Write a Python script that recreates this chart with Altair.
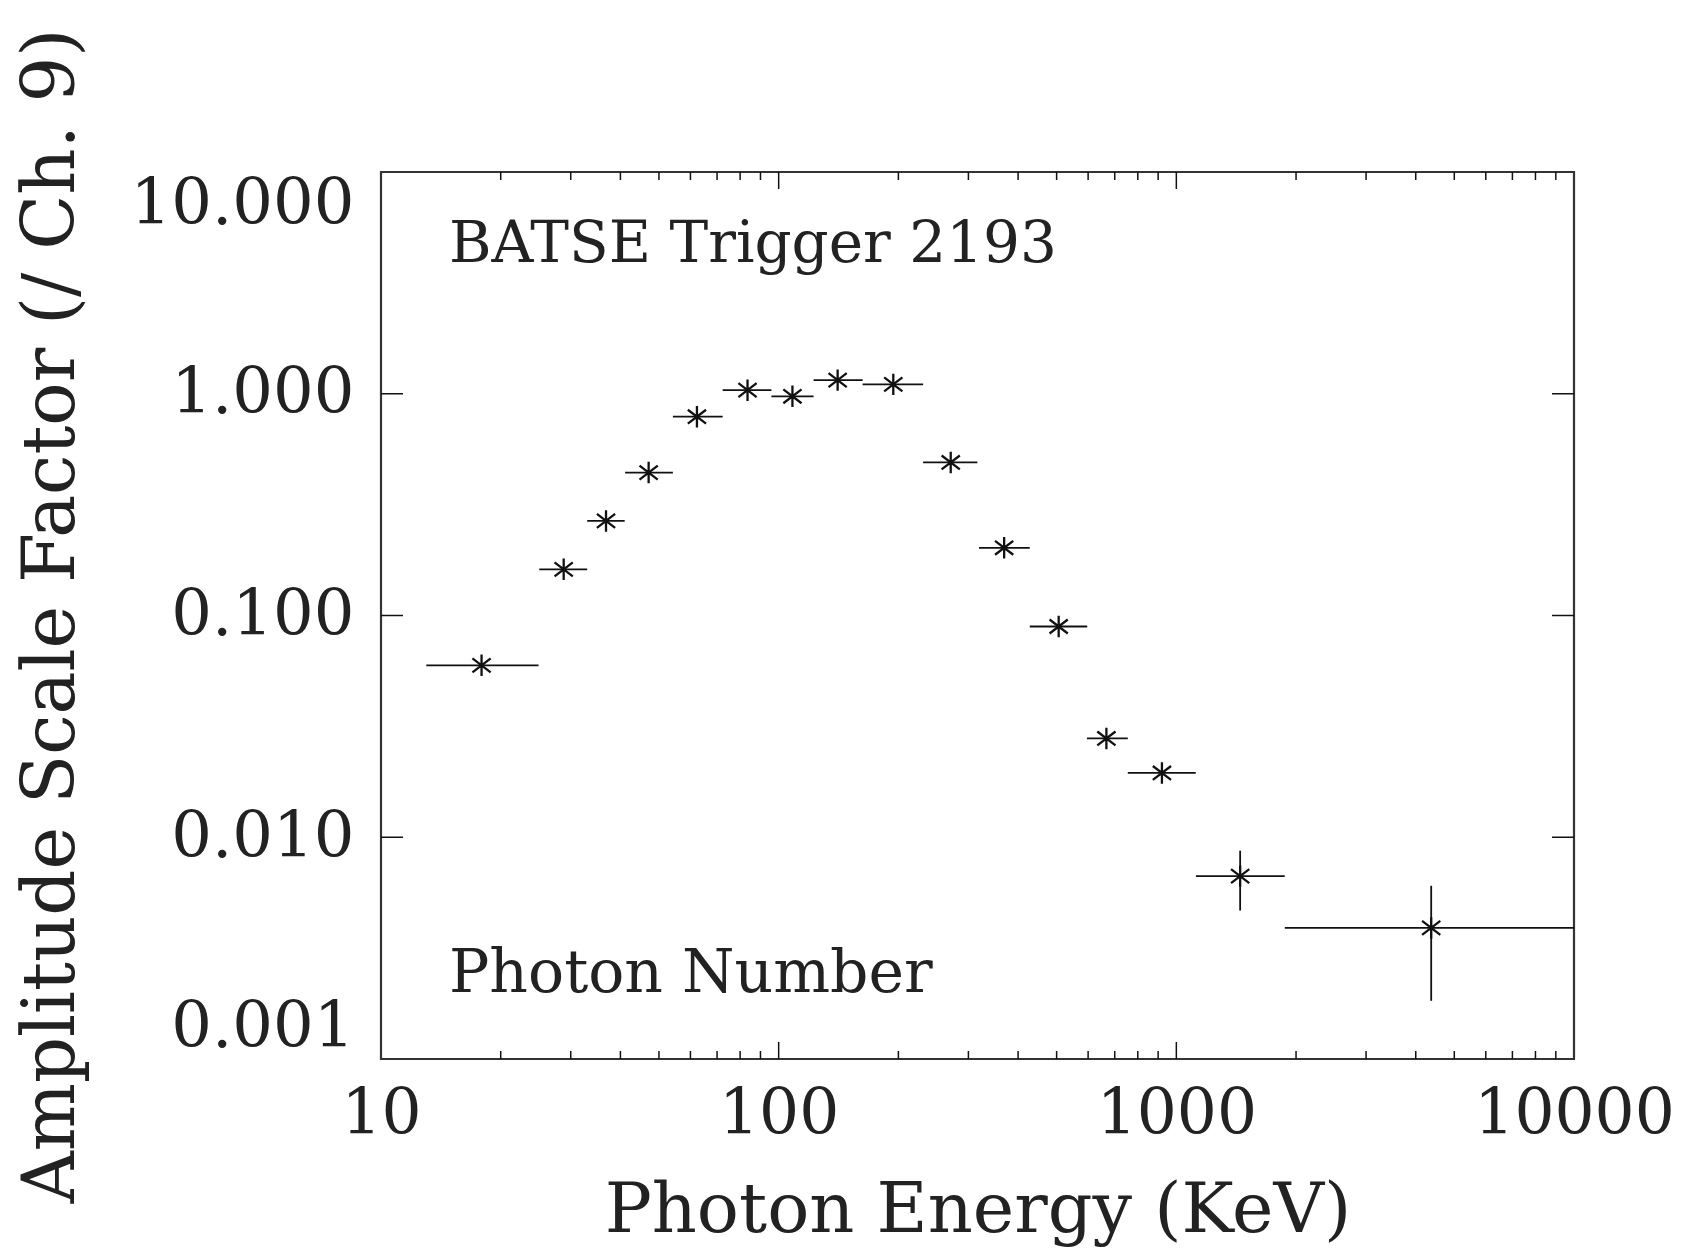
import altair as alt
import pandas as pd

# ---- data ----
energy = [17.9, 28.8, 36.8, 47.1, 62.3, 83.5, 108.3, 140.7, 194.2, 270.8,
          369.0, 506.0, 667.0, 920.0, 1447.0, 4374.0]
e_lo = [13.0, 25.0, 33.0, 41.1, 54.2, 72.3, 95.9, 122.4, 162.6, 230.8,
        319.0, 428.0, 596.0, 755.0, 1120.0, 1874.0]
e_hi = [24.9, 33.0, 41.0, 54.2, 72.3, 95.9, 122.4, 162.6, 230.8, 316.0,
        428.0, 597.0, 755.0, 1119.0, 1873.0, 10000.0]
amp = [0.0596, 0.1615, 0.267, 0.441, 0.788, 1.038, 0.974, 1.152, 1.102, 0.49,
       0.202, 0.0892, 0.0279, 0.0195, 0.00668, 0.0039]
amp_lo = [0.0596, 0.1615, 0.267, 0.441, 0.788, 1.038, 0.974, 1.152, 1.102, 0.49,
          0.202, 0.0892, 0.0279, 0.0195, 0.00467, 0.00183]
amp_hi = [0.0596, 0.1615, 0.267, 0.441, 0.788, 1.038, 0.974, 1.152, 1.102, 0.49,
          0.202, 0.0892, 0.0279, 0.0195, 0.0087, 0.00604]

x_major = [10, 100, 1000, 10000]
x_minor = [20, 30, 40, 50, 60, 70, 80, 90,
           200, 300, 400, 500, 600, 700, 800, 900,
           2000, 3000, 4000, 5000, 6000, 7000, 8000, 9000]
y_major = [0.001, 0.01, 0.1, 1.0, 10.0]

W, H = 1193, 887
FONT = "DejaVu Serif"
INK = "#111111"
TXT = "#222222"

df = pd.DataFrame({"e": energy, "elo": e_lo, "ehi": e_hi,
                   "a": amp, "alo": amp_lo, "ahi": amp_hi})

xs = alt.Scale(type="log", domain=[10, 10000], nice=False)
ys = alt.Scale(type="log", domain=[0.001, 10], nice=False)

xaxis = alt.Axis(values=x_major, format="d", title="Photon Energy (KeV)",
                 ticks=False, domain=False, grid=False, labelFlush=False,
                 labelFont=FONT, labelFontSize=63, labelColor=TXT,
                 labelPadding=24, labelLimit=600,
                 titleFont=FONT, titleFontSize=70,
                 titleFontWeight="normal", titleColor=TXT, titlePadding=30)
yaxis = alt.Axis(values=y_major, format=".3f",
                 title="Amplitude Scale Factor (/ Ch. 9)",
                 ticks=False, domain=False, grid=False, labelFlush=True,
                 labelFont=FONT, labelFontSize=64, labelColor=TXT,
                 labelPadding=27, labelLimit=600,
                 titleFont=FONT, titleFontSize=72,
                 titleFontWeight="normal", titleColor=TXT, titlePadding=93)

def X(f):
    return alt.X(f, scale=xs, axis=xaxis)

def Y(f):
    return alt.Y(f, scale=ys, axis=yaxis)

base = alt.Chart(df)

hbars = base.mark_rule(color=INK, strokeWidth=1.8, clip=True).encode(
    x=X("elo:Q"), x2="ehi:Q", y=Y("a:Q"))

vbars = base.mark_rule(color=INK, strokeWidth=1.8).encode(
    x=X("e:Q"), y=Y("alo:Q"), y2="ahi:Q")

star = "M0,-1L0,1M-0.85,-0.65L0.85,0.65M-0.85,0.65L0.85,-0.65"
points = base.mark_point(shape=star, size=460, filled=False, color=INK,
                         strokeWidth=2.3, opacity=1).encode(
    x=X("e:Q"), y=Y("a:Q"))

xmaj = pd.DataFrame({"v": x_major[1:-1]})
xmin = pd.DataFrame({"v": x_minor})
ymaj = pd.DataFrame({"v": y_major[1:-1]})

def xticks(d, length):
    bot = alt.Chart(d).mark_rule(color=INK, strokeWidth=1.5).encode(
        x=X("v:Q"), y=alt.value(H), y2=alt.value(H - length))
    top = alt.Chart(d).mark_rule(color=INK, strokeWidth=1.5).encode(
        x=X("v:Q"), y=alt.value(0), y2=alt.value(length))
    return [bot, top]

ytick_l = alt.Chart(ymaj).mark_rule(color=INK, strokeWidth=1.5).encode(
    y=Y("v:Q"), x=alt.value(0), x2=alt.value(22))
ytick_r = alt.Chart(ymaj).mark_rule(color=INK, strokeWidth=1.5).encode(
    y=Y("v:Q"), x=alt.value(W - 22), x2=alt.value(W))

lab1 = alt.Chart(pd.DataFrame({"t": ["BATSE Trigger 2193"]})).mark_text(
    font=FONT, fontSize=58, align="left", baseline="middle", color=TXT).encode(
    text="t:N", x=alt.value(68), y=alt.value(73))
lab2 = alt.Chart(pd.DataFrame({"t": ["Photon Number"]})).mark_text(
    font=FONT, fontSize=60, align="left", baseline="middle", color=TXT).encode(
    text="t:N", x=alt.value(68), y=alt.value(802))

chart = alt.layer(
    hbars, vbars, points,
    *xticks(xmaj, 17), *xticks(xmin, 8),
    ytick_l, ytick_r, lab1, lab2,
).properties(
    width=W, height=H,
    autosize=alt.AutoSizeParams(type="none"),
    padding={"left": 373, "top": 164, "right": 100, "bottom": 230},
    background="white",
).configure_view(
    stroke="#333333", strokeWidth=2.2
)

chart.save("out.html", embed_options={"renderer": "svg", "actions": False})
